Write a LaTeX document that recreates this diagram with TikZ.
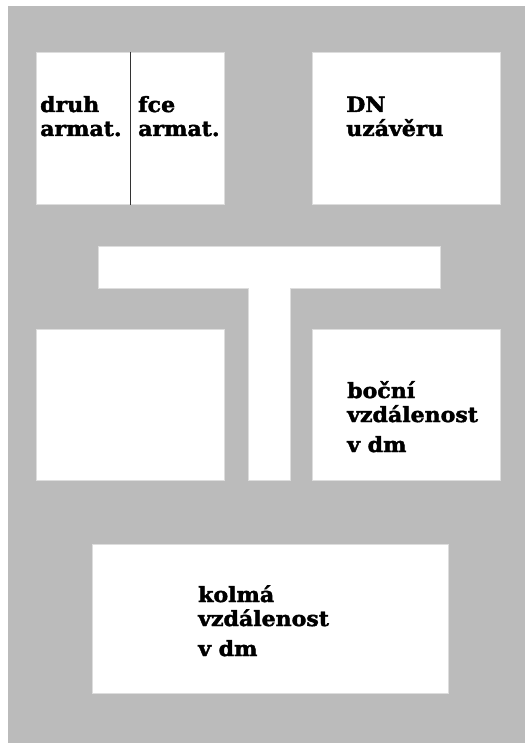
\documentclass[tikz,border=0pt]{standalone}
\usepackage{fontspec}
\usepackage{tikz}
\usetikzlibrary{positioning}
\newfontfamily\labelfont[FakeStretch=1.05,FakeBold=2]{DejaVu Serif}
\definecolor{SheetGray}{HTML}{BBBBBB}
\definecolor{EdgeGray}{HTML}{DDDDDD}
\definecolor{RuleInk}{HTML}{333333}
\tikzset{
  sheet/.style={x=1pt,y=-1pt,font=\labelfont\bfseries\fontsize{21}{24}\selectfont},
  panel/.style={draw=EdgeGray,line width=0.8pt,fill=white,inner sep=0pt,anchor=north west},
  caption/.style={anchor=base west,inner sep=0pt,align=left},
}

\begin{document}
\begin{tikzpicture}[sheet]
  \useasboundingbox (0,0) rectangle (525,743);
  \fill[SheetGray] (8,6) rectangle (525,743);

  \node[panel,minimum width=188pt,minimum height=152pt] (armat) at (36,52) {};
  \node[panel,minimum width=188pt,minimum height=152pt] (uzaver) at (312,52) {};
  \node[panel,minimum width=188pt,minimum height=151pt] (prazdny) at (36,329) {};
  \node[panel,minimum width=188pt,minimum height=151pt] (bocni) at (312,329) {};
  \node[panel,minimum width=356pt,minimum height=149pt] (kolma) at (92,544) {};

  \draw[draw=EdgeGray,line width=0.8pt,fill=white] (98,246) -- (440,246) -- (440,288)
    -- (290,288) -- (290,480) -- (248,480) -- (248,288) -- (98,288) -- cycle;

  \draw[RuleInk,line width=1.4pt] (130.5,0 |- armat.north) -- (130.5,0 |- armat.south);

  % anchors sit on the last line
  \node[caption] (druh) at (40,136) {druh\\armat.};
  \node[caption] (fce) at (138,136) {fce\\armat.};
  \node[caption] (dn) at (346,136) {DN\\uzávěru};
  \node[caption] (bocnitext) at (347,452) {boční\\vzdálenost\\[6pt]v dm};
  \node[caption] (kolmatext) at (198,656) {kolmá\\vzdálenost\\[6pt]v dm};
\end{tikzpicture}
\end{document}
